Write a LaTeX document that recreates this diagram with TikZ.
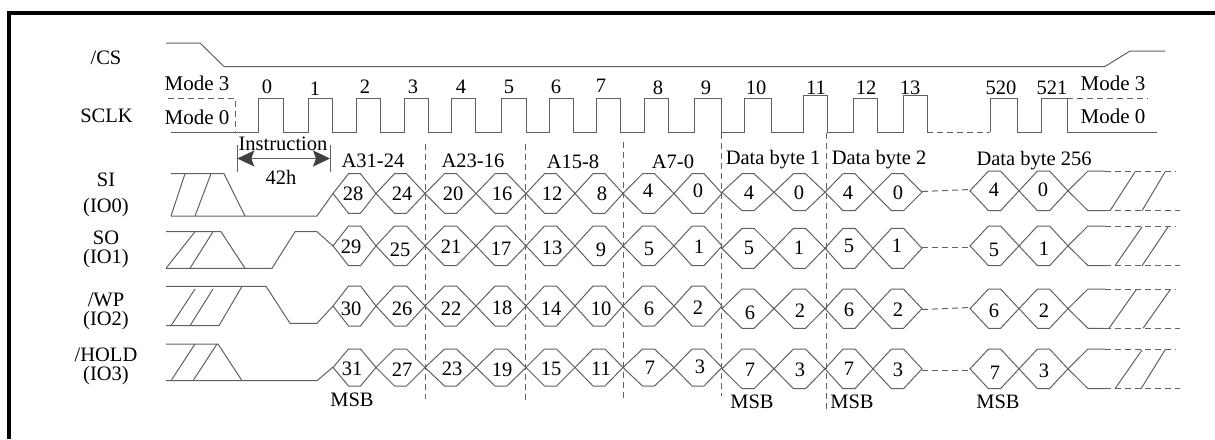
\documentclass[tikz,border=0pt]{standalone}
\usepackage{fontspec}
\setmainfont{Liberation Serif}
\usetikzlibrary{arrows.meta}
\colorlet{wavegray}{black!62}
\tikzset{
    wave/.style={wavegray, line width=1pt, line join=miter},
    wavedash/.style={wave, dash pattern=on 6pt off 4pt},
    lbl/.style={inner sep=0pt, text height=14pt, text depth=0pt, font=\fontsize{20.5}{22}\selectfont},
    modelbl/.style={lbl, font=\fontsize{21}{22}\selectfont},
}
% one bus cell per pair of crossing points
\newcommand{\hexrun}[3]{
    \pgfmathsetmacro{\midy}{(#1+#2)/2}
    \foreach \a/\b in {#3} {
        \pgfmathsetmacro{\d}{(\b-\a)/2-6}
        \draw[wave] (\a,\midy) -- ({\a+\d},#1) -- ({\b-\d},#1) -- (\b,\midy)
            -- ({\b-\d},#2) -- ({\a+\d},#2) -- cycle;
    }
}
% end of a bus row
\newcommand{\tailrun}[6]{
    \pgfmathsetmacro{\midy}{(#1+#2)/2}
    \draw[wave] (1068,\midy) -- (1088,#1) -- (1105,#1);
    \draw[wave] (1068,\midy) -- (1088,#2) -- (1105,#2);
    \draw[wavedash] (1105,#1) -- (1176,#1);
    \draw[wavedash] (1105,#2) -- (1180,#2);
    \draw[wave] (#3,#2) -- (#4,{#1+1});
    \draw[wave] (#5,#2) -- (#6,{#1+1});
}
\begin{document}
\begin{tikzpicture}[x=1pt, y=-1pt]
    \useasboundingbox (0,0) rectangle (1215,439);
    % frame
    \draw[line width=4pt] (9.2,439) -- (9.2,12.8) -- (1215,12.8);

    % signal names
    \foreach \name/\x/\y/\t in {cs/106/57.5/{/CS}, sclk/106.5/115/SCLK, si/106/179/SI, ioa/106/205/(IO0),
        so/106/237.5/SO, iob/106/256.5/(IO1), wp/106/299/{/WP}, ioc/106/318/(IO2),
        hold/106/354/{/HOLD}, iod/106/373/(IO3)}
        \node[lbl] (\name) at (\x,\y) {\t};

    % CS
    \draw[wave] (166,43) -- (200,43) -- (224,66.5) -- (1105,66.5) -- (1130,51) -- (1165,51);

    % SCLK
    \draw[wave] (171,132) -- (258,132) -- (258,98) -- (283,98) -- (283,132)
        -- (308,132) -- (308,98) -- (332,98) -- (332,132)
        -- (356,132) -- (356,98) -- (380,98) -- (380,132)
        -- (404,132) -- (404,98) -- (428,98) -- (428,132)
        -- (451,132) -- (451,98) -- (475,98) -- (475,132)
        -- (501,132) -- (501,98) -- (526,98) -- (526,132)
        -- (549,132) -- (549,98) -- (573,98) -- (573,132)
        -- (596,132) -- (596,98) -- (620,98) -- (620,132)
        -- (644,132) -- (644,98) -- (668,98) -- (668,132)
        -- (694,132) -- (694,98) -- (721,98) -- (721,132)
        -- (744,132) -- (744,98) -- (771,98) -- (771,132)
        -- (803,132) -- (803,95.5) -- (827,95.5) -- (827,132)
        -- (853,132) -- (853,98) -- (877,98) -- (877,132)
        -- (903,132) -- (903,95.5) -- (927,95.5) -- (927,132);
    \draw[wavedash] (927,132) -- (990,132);
    \draw[wave] (990,132) -- (990,98) -- (1017,98) -- (1017,132)
        -- (1041,132) -- (1041,98) -- (1067,98) -- (1067,132) -- (1157,132);
    \draw[wavedash] (1067,98) -- (1148,98);
    \draw[wavedash] (168,98) -- (235,98) -- (235,132);
    \node[modelbl] (modeal) at (197,83.7) {Mode 3};
    \node[modelbl] (modebl) at (197,117) {Mode 0};
    \node[modelbl] (modear) at (1113,83) {Mode 3};
    \node[modelbl] (modebr) at (1113,116.7) {Mode 0};

    % clock numbers
    \foreach \x/\y/\t [count=\i] in {267/86/0, 315/88/1, 365/86/2, 413/86/3, 461/86/4, 509/86/5,
        556/86/6, 601/85/7, 658/87.5/8, 706/87/9, 756/87/10, 816/87/11, 866/87/12, 910/87/13,
        1001/87/520, 1052/87/521}
        \node[lbl] (clk\i) at (\x,\y) {\t};

    % instruction
    \draw[wave] (237.3,145) -- (237.3,172);
    \draw[wave] (330,145) -- (330,172);
    \draw[wave, {Stealth[length=17pt,width=16pt,inset=3pt,black!75]}-{Stealth[length=17pt,width=16pt,inset=3pt,black!75]}] (237.3,158.5) -- (330,158.5);
    \node[lbl] (instr) at (283,143) {Instruction};
    \node[lbl] (opcode) at (281,177) {42h};

    % group names
    \foreach \x/\y/\t [count=\i] in {373/160/A31-24, 473/160/A23-16, 573/161/A15-8, 673/161/A7-0,
        773/157/Data byte 1, 879/157/Data byte 2, 1034/158/Data byte 256}
        \node[lbl] (grp\i) at (\x,\y) {\t};

    % byte separators
    \draw[wavedash] (425,144) -- (425,399);
    \draw[wavedash] (525.5,144) -- (525.5,402.7);
    \draw[wavedash] (623,142) -- (623,399);
    \draw[wavedash] (721,133) -- (721,396);
    \draw[wavedash] (826,133) -- (826,412);

    % SI
    \draw[wave] (171,173.7) -- (224,173.7) -- (245,216);
    \draw[wave] (171,216) -- (317,216) -- (333,193.5);
    \draw[wave] (171,216) -- (185,173.7);
    \draw[wave] (195,216) -- (211,173.7);
    \hexrun{173.7}{213.3}{333/376, 376/425, 425/476, 476/526, 526/575, 575/623, 623/674, 674/722}
    \hexrun{173.7}{210.7}{722/774, 774/825, 825/873, 873/922}
    \hexrun{171}{210.7}{970/1019, 1019/1068}
    \draw[wavedash] (922,191.5) -- (970,189.5);
    \tailrun{171}{210.7}{1110}{1135}{1142}{1165}

    % SO
    \draw[wave] (166,231.7) -- (221,231.7) -- (245,268.3);
    \draw[wave] (166,268.3) -- (272,268.3) -- (295,231.7) -- (317,231.7) -- (333,246);
    \draw[wave] (166,268.3) -- (195,231.7);
    \draw[wave] (190,268.3) -- (213,231.7);
    \hexrun{226}{265.7}{333/376, 376/425, 425/476, 476/526, 526/575, 575/623, 623/674, 674/722}
    \hexrun{228.3}{268.3}{722/774, 774/825, 825/873, 873/922}
    \hexrun{226}{265.7}{970/1019, 1019/1068}
    \draw[wavedash] (922,247.5) -- (970,247.5);
    \tailrun{226}{265.7}{1115}{1142}{1142}{1168}

    % WP
    \draw[wave] (166,286.3) -- (266,286.3) -- (290,323.3) -- (317,323.3) -- (333,306);
    \draw[wave] (166,325.7) -- (219,325.7) -- (242,286.3);
    \draw[wave] (171,325.7) -- (195,289);
    \draw[wave] (190,325.7) -- (213,289);
    \hexrun{286}{326}{333/376, 376/425, 425/476, 476/526, 526/575, 575/623, 623/674, 674/722}
    \hexrun{289}{328.3}{722/774, 774/825, 825/873, 873/922}
    \hexrun{289}{328.3}{970/1019, 1019/1068}
    \draw[wavedash] (922,309.5) -- (970,307.5);
    \tailrun{289}{328.3}{1109}{1136}{1143}{1170}

    % HOLD
    \draw[wave] (166,344) -- (218,344) -- (242,380.7);
    \draw[wave] (166,380.7) -- (317,380.7) -- (333,367);
    \draw[wave] (171,380.7) -- (195,344);
    \draw[wave] (193,380.7) -- (217,344);
    \hexrun{349}{386}{333/376, 376/425, 425/476, 476/526, 526/575, 575/623, 623/674, 674/722}
    \hexrun{349}{388.7}{722/774, 774/825, 825/873, 873/922, 970/1019, 1019/1068}
    \draw[wavedash] (922,370) -- (970,370);
    \tailrun{349}{388.7}{1115}{1142}{1141}{1165}

    % bit numbers
    \foreach \x/\y/\t [count=\i] in {353/193/28, 402/193/24, 453/193/20, 502/193/16, 552/193/12, 602/193/8,
        648/190/4, 698/190/0, 749/192/4, 799/192/0, 848/192/4, 898/192/0, 994/189/4, 1043/189/0}
        \node[lbl] (sibit\i) at (\x,\y) {\t};
    \foreach \x/\y/\t [count=\i] in {351/246/29, 400/249/25, 451/246/21, 501/248/17, 552/247/13, 601/249/9,
        649/248/5, 699/246/1, 749/247/5, 799/247/1, 849/245/5, 897/245/1, 994/249/5, 1044/248/1}
        \node[lbl] (sobit\i) at (\x,\y) {\t};
    \foreach \x/\y/\t [count=\i] in {351/308/30, 402/308/26, 451/308.5/22, 502/307/18, 551/308/14, 601/308/10,
        649/308/6, 698/307/2, 750/312/6, 800/310/2, 849/309/6, 898/309/2, 994/310/6, 1044/310/2}
        \node[lbl] (wpbit\i) at (\x,\y) {\t};
    \foreach \x/\y/\t [count=\i] in {352/368/31, 402/369/27, 452/368/23, 502/369/19, 551/368/15, 601/368/11,
        650/367/7, 700/366/3, 750/369/7, 800/369/3, 849/368/7, 898/369/3, 995/372/7, 1044/370/3}
        \node[lbl] (holdbit\i) at (\x,\y) {\t};

    % MSB marks
    \foreach \x/\y [count=\i] in {352/399, 752/401, 852/401, 998/401}
        \node[lbl] (msb\i) at (\x,\y) {MSB};
\end{tikzpicture}
\end{document}
